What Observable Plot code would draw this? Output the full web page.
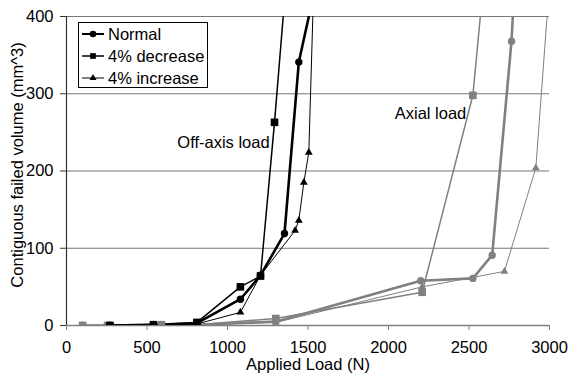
<!DOCTYPE html>
<html>
<head>
<meta charset="utf-8">
<script src="https://cdn.jsdelivr.net/npm/d3@7"></script>
<script src="https://cdn.jsdelivr.net/npm/@observablehq/plot@0.6"></script>
<style>
  html, body { margin: 0; padding: 0; background: #fff; }
  #wrap { position: relative; width: 569px; height: 379px; font-family: "Liberation Sans", Arial, sans-serif; }
  #legend { position: absolute; left: 78px; top: 22px; width: 130px; height: 66px; border: 1px solid #000; background: #fff; box-sizing: border-box; font-size: 16.5px; color: #000; }
  #legend .row { display: flex; align-items: center; height: 22px; }
  #legend svg { display: block; margin-left: 2px; margin-right: 3px; }
</style>
</head>
<body>
<div id="wrap"></div>
<script>
// ---- data ----
const seriesNames = ["Normal", "4% decrease", "4% increase"];
const xTicks = [0, 500, 1000, 1500, 2000, 2500, 3000];
const yTicks = [0, 100, 200, 300, 400];

// Off-axis load (black)
const offNormalX = [270, 540, 810, 1080, 1205, 1354, 1443, 1600];
const offNormalY = [0, 1, 3, 34, 65, 119, 341, 490];
const offDecX = [270, 540, 810, 1080, 1205, 1292, 1400];
const offDecY = [0, 1, 4, 50, 64, 263, 537];
const offIncX = [270, 540, 810, 1080, 1205, 1420, 1443, 1474, 1505, 1550];
const offIncY = [0, 1, 2, 17, 65, 123, 136, 185, 224, 540];

// Axial load (gray)
const axNormalX = [100, 255, 590, 810, 1300, 2200, 2524, 2644, 2764, 2800];
const axNormalY = [0, 0, 1, 1, 5, 58, 61, 91, 368, 512];
const axDecX = [100, 255, 590, 810, 1300, 2209, 2524, 2600];
const axDecY = [0, 0, 1, 1, 9, 43, 298, 465];
const axIncX = [100, 255, 590, 810, 1300, 2209, 2720, 2915, 3050];
const axIncY = [0, 0, 1, 1, 4, 50, 70, 204, 582];

const annotations = [
  {x: 975, y: 236, text: "Off-axis load"},
  {x: 2261, y: 274, text: "Axial load"}
];

// ---- build ----
const zip = (xs, ys) => xs.map((x, i) => ({x, y: ys[i]}));
const BLACK = "#000000", GRAY = "#808080";
const styles = [
  {name: seriesNames[0], symbol: "circle", r: 3.7, w: 2.6},
  {name: seriesNames[1], symbol: "square", r: 4.3, w: 1.5},
  {name: seriesNames[2], symbol: "triangle", r: 2.9, w: 1.0}
];
const groups = [
  {data: zip(axNormalX, axNormalY), color: GRAY, s: styles[0]},
  {data: zip(axDecX, axDecY), color: GRAY, s: styles[1]},
  {data: zip(axIncX, axIncY), color: GRAY, s: styles[2]},
  {data: zip(offNormalX, offNormalY), color: BLACK, s: styles[0]},
  {data: zip(offDecX, offDecY), color: BLACK, s: styles[1]},
  {data: zip(offIncX, offIncY), color: BLACK, s: styles[2]}
];

const fmt = d => String(d);
const marks = [
  Plot.ruleY(yTicks.filter(d => d > 0), {stroke: "#777", strokeWidth: 1.2}),
  Plot.axisY({ticks: yTicks, tickFormat: fmt, tickSize: 6, tickPadding: 7, stroke: "#333", fontSize: 16.5, label: null}),
  Plot.ruleX([0], {stroke: "#333", strokeWidth: 1.2}),
  Plot.ruleY([0], {stroke: GRAY, strokeWidth: 1.5}),
  Plot.axisX({ticks: xTicks, tickFormat: fmt, tickSize: 5, tickPadding: 11, stroke: GRAY, fontSize: 16.5, label: null})
];
for (const g of groups) {
  marks.push(Plot.line(g.data, {x: "x", y: "y", stroke: g.color, strokeWidth: g.s.w, clip: true}));
}
for (const g of groups) {
  marks.push(Plot.dot(g.data, {x: "x", y: "y", symbol: g.s.symbol, r: g.s.r, fill: g.color, stroke: "none", clip: true}));
}
marks.push(Plot.text(annotations, {x: "x", y: "y", text: "text", fontSize: 16.5, fill: "#000"}));
marks.push(Plot.text(["Applied Load (N)"], {frameAnchor: "bottom", textAnchor: "middle", dy: 44, fontSize: 16.5, fill: "#000"}));
marks.push(Plot.text(["Contiguous failed volume (mm^3)"], {frameAnchor: "left", textAnchor: "middle", dx: -49, dy: -6, rotate: -90, fontSize: 16.5, fill: "#000"}));

const chart = Plot.plot({
  width: 569,
  height: 379,
  marginLeft: 66,
  marginRight: 20,
  marginTop: 16,
  marginBottom: 54,
  style: {fontFamily: "'Liberation Sans', Arial, sans-serif", background: "#fff", color: "#000", overflow: "visible"},
  x: {domain: [0, 3000]},
  y: {domain: [0, 400]},
  marks
});
const wrap = document.getElementById("wrap");
wrap.appendChild(chart);

// ---- legend (inside plot, top-left) ----
const legend = document.createElement("div");
legend.id = "legend";
const symPath = {
  circle: d3.symbol(d3.symbolCircle, Math.PI * 3.3 * 3.3)(),
  square: d3.symbol(d3.symbolSquare, Math.PI * 3.2 * 3.2)(),
  triangle: d3.symbol(d3.symbolTriangle, Math.PI * 2.6 * 2.6)()
};
for (const s of styles) {
  const row = document.createElement("div");
  row.className = "row";
  row.innerHTML = `<svg width="24" height="22"><line x1="1" x2="23" y1="11" y2="11" stroke="#000" stroke-width="${Math.min(s.w, 2)}"/><path transform="translate(12,11)" d="${symPath[s.symbol]}" fill="#000"/></svg><span>${s.name}</span>`;
  legend.appendChild(row);
}
wrap.appendChild(legend);
</script>
</body>
</html>
